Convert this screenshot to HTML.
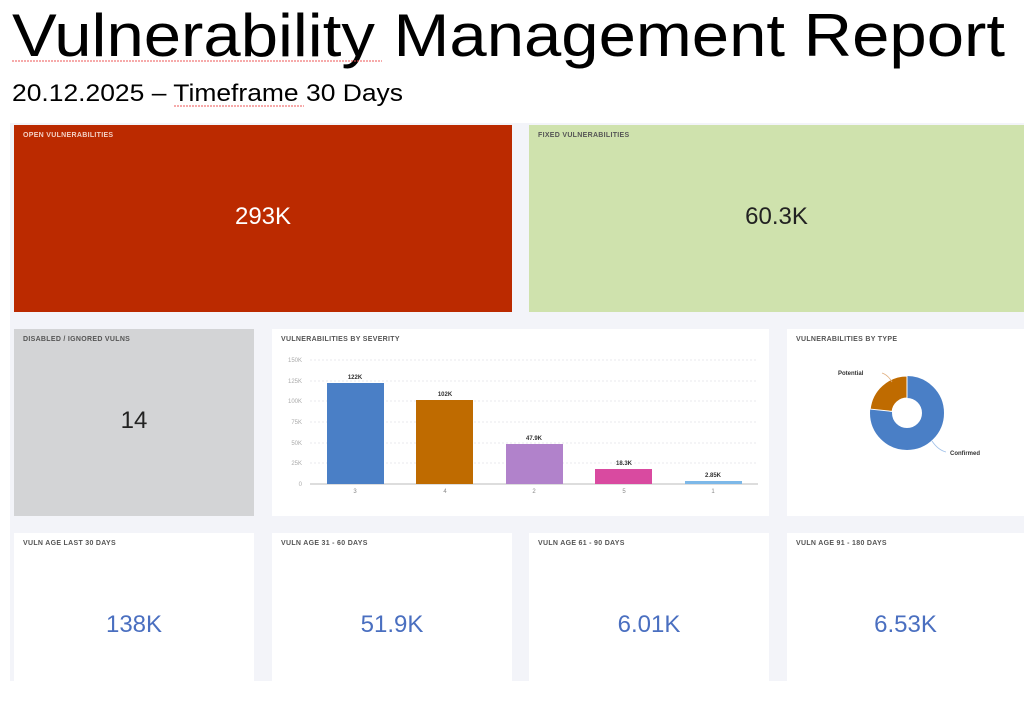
<!DOCTYPE html>
<html><head><meta charset="utf-8"><style>
body{margin:0;width:1024px;height:703px;background:#fff;position:relative;overflow:hidden;font-family:"Liberation Sans",sans-serif}
.p{position:absolute;box-sizing:border-box}
.h{position:absolute;left:9px;top:7px;font-size:7px;font-weight:bold;letter-spacing:0.3px;color:#555;font-family:"Liberation Sans Narrow","Liberation Sans",sans-serif}
.n{position:absolute;left:0;right:0;text-align:center;font-size:24px}
</style></head><body>
<svg class="p" style="left:0;top:0" width="1024" height="115">
<text x="12" y="56" font-size="60" textLength="993" lengthAdjust="spacingAndGlyphs" font-family="Liberation Sans, sans-serif">Vulnerability Management Report</text>
<text x="12" y="101" font-size="24" textLength="391" lengthAdjust="spacingAndGlyphs" font-family="Liberation Sans, sans-serif">20.12.2025 – Timeframe 30 Days</text>
<path d="M12 61 h370" stroke="#e55" stroke-width="1" stroke-dasharray="2,1"/>
<path d="M174 106 h130" stroke="#e55" stroke-width="1" stroke-dasharray="2,1"/>
</svg>
<div class="p" style="left:10px;top:123px;width:1014px;height:558px;background:#f3f4f9"></div>
<div class="p" style="left:14px;top:125px;width:498px;height:187px;background:#bb2a00"><div class="h" style="color:#f3d0c4">OPEN VULNERABILITIES</div><div class="n" style="top:78px;color:#fff">293K</div></div>
<div class="p" style="left:529px;top:125px;width:495px;height:187px;background:#cfe2ad"><div class="h">FIXED VULNERABILITIES</div><div class="n" style="top:78px;color:#222">60.3K</div></div>
<div class="p" style="left:14px;top:329px;width:240px;height:187px;background:#d3d4d6"><div class="h">DISABLED / IGNORED VULNS</div><div class="n" style="top:78px;color:#222">14</div></div>
<div class="p" style="left:272px;top:329px;width:497px;height:187px;background:#fff"><div class="h">VULNERABILITIES BY SEVERITY</div></div>
<div class="p" style="left:787px;top:329px;width:237px;height:187px;background:#fff"><div class="h">VULNERABILITIES BY TYPE</div></div>
<svg class="p" style="left:0;top:0" width="1024" height="703" font-family="Liberation Sans, sans-serif">
<g stroke="#e4e4e8" stroke-dasharray="2,2" stroke-width="0.8">
<line x1="310" x2="758" y1="360" y2="360"/><line x1="310" x2="758" y1="381" y2="381"/><line x1="310" x2="758" y1="401" y2="401"/><line x1="310" x2="758" y1="422" y2="422"/><line x1="310" x2="758" y1="443" y2="443"/><line x1="310" x2="758" y1="463" y2="463"/>
</g>
<line x1="310" x2="758" y1="484" y2="484" stroke="#bbb"/>
<g font-size="6" fill="#aaa" text-anchor="end">
<text x="302" y="362">150K</text><text x="302" y="383">125K</text><text x="302" y="403">100K</text><text x="302" y="424">75K</text><text x="302" y="445">50K</text><text x="302" y="465">25K</text><text x="302" y="486">0</text>
</g>
<rect x="327" y="383" width="57" height="101" fill="#4a7fc6"/>
<rect x="416" y="400" width="57" height="84" fill="#bf6b00"/>
<rect x="506" y="444" width="57" height="40" fill="#b182cb"/>
<rect x="595" y="469" width="57" height="15" fill="#d94aa0"/>
<rect x="685" y="481" width="57" height="3" fill="#7db8e8"/>
<g font-size="6" fill="#333" text-anchor="middle" font-weight="bold">
<text x="355" y="379">122K</text><text x="445" y="396">102K</text><text x="534" y="440">47.9K</text><text x="624" y="465">18.3K</text><text x="713" y="477">2.85K</text>
</g>
<g font-size="6" fill="#888" text-anchor="middle">
<text x="355" y="493">3</text><text x="445" y="493">4</text><text x="534" y="493">2</text><text x="624" y="493">5</text><text x="713" y="493">1</text>
</g>
<circle cx="907" cy="413" r="26" fill="none" stroke="#4a7fc6" stroke-width="22"/>
<path d="M907 376 A37 37 0 0 0 870.2 409.1 L892.1 411.4 A15 15 0 0 1 907 398 Z" fill="#bf6b00" stroke="#fff" stroke-width="1"/>
<path d="M882 373 q6 2 10 9" fill="none" stroke="#e0b080" stroke-width="0.8"/>
<path d="M932 441 q6 9 14 11" fill="none" stroke="#a0c0e8" stroke-width="0.8"/>
<text x="838" y="375" font-size="6" fill="#333" font-weight="bold">Potential</text>
<text x="950" y="455" font-size="6" fill="#333" font-weight="bold">Confirmed</text>
</svg>
<div class="p" style="left:14px;top:533px;width:240px;height:148px;background:#fff"><div class="h">VULN AGE LAST 30 DAYS</div><div class="n" style="top:78px;color:#4a6fc0">138K</div></div>
<div class="p" style="left:272px;top:533px;width:240px;height:148px;background:#fff"><div class="h">VULN AGE 31 - 60 DAYS</div><div class="n" style="top:78px;color:#4a6fc0">51.9K</div></div>
<div class="p" style="left:529px;top:533px;width:240px;height:148px;background:#fff"><div class="h">VULN AGE 61 - 90 DAYS</div><div class="n" style="top:78px;color:#4a6fc0">6.01K</div></div>
<div class="p" style="left:787px;top:533px;width:237px;height:148px;background:#fff"><div class="h">VULN AGE 91 - 180 DAYS</div><div class="n" style="top:78px;color:#4a6fc0">6.53K</div></div>
</body></html>
